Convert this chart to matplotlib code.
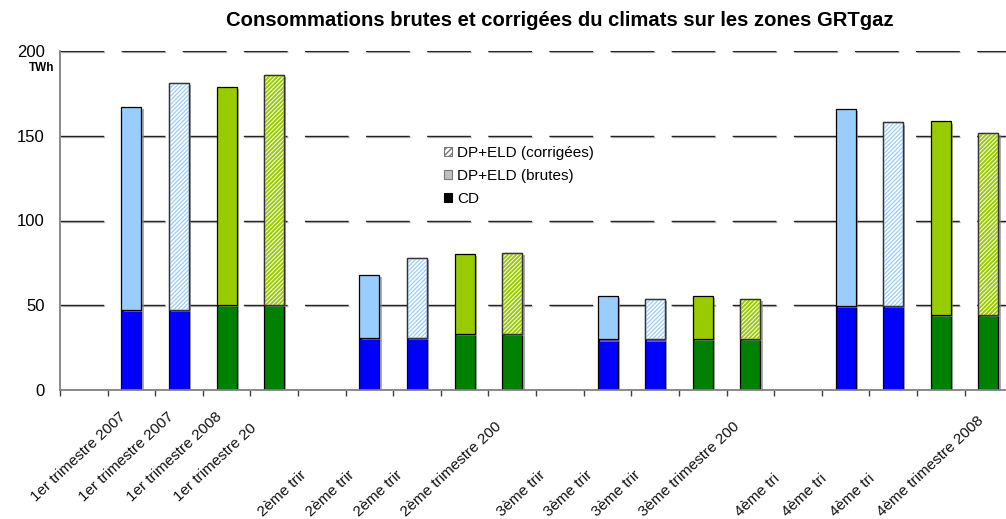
import matplotlib
matplotlib.use("Agg")
import matplotlib.pyplot as plt
import matplotlib.patheffects as pe
import matplotlib.transforms as mtransforms
from matplotlib.patches import Patch

plt.rcParams['font.family'] = ['Liberation Sans', 'DejaVu Sans']
plt.rcParams['hatch.linewidth'] = 1.0

# ---- data ----
slot_labels = ['', '1er trimestre 2007', '1er trimestre 2007', '1er trimestre 2008', '1er trimestre 20',
               '', '2ème trir', '2ème trir', '2ème trir', '2ème trimestre 200',
               '', '3ème trir', '3ème trir', '3ème trir', '3ème trimestre 200',
               '', '4ème tri', '4ème tri', '4ème tri', '4ème trimestre 2008']
long_label_slots = [1, 2, 3, 4]

cd_2007 = [47.3, 30.8, 29.8, 49.6]
cd_2008 = [50.4, 33.0, 30.2, 44.5]
dp_2007_brutes = [119.6, 36.9, 25.9, 116.2]
dp_2007_corr = [133.7, 47.3, 24.1, 108.3]
dp_2008_brutes = [128.3, 47.5, 25.5, 114.0]
dp_2008_corr = [135.4, 48.1, 23.7, 107.2]

legend_labels = ['DP+ELD (corrigées)', 'DP+ELD (brutes)', 'CD']
title = 'Consommations brutes et corrigées du climats sur les zones GRTgaz'
yticks = [0, 50, 100, 150, 200]

# ---- figure ----
W, H = 1006, 519
fig = plt.figure(figsize=(W / 100, H / 100), dpi=100)
ax_left = 60 / W
ax_bottom = (H - 390) / H
ax_height = 339 / H
ax = fig.add_axes([ax_left, ax_bottom, 1 - ax_left, ax_height])
ax.set_xlim(0, 19.87)
ax.set_ylim(0, 200)

# gridlines
for v in yticks[1:]:
    ax.axhline(v, color='#222222', lw=1.0, dashes=(31.5, 12.5), zorder=1,
               path_effects=[pe.SimpleLineShadow(offset=(0.8, -0.8), shadow_color='#999999', alpha=0.6),
                             pe.Normal()])

light_blue = '#99CCFF'
blue = '#0000FF'
green = '#008000'
yel_green = '#99CC00'
width = 0.42
shadow = [pe.SimplePatchShadow(offset=(1.6, -1.6), shadow_rgbFace='#8a8a8a', alpha=0.7), pe.Normal()]


def draw_bar(xs, bottom_vals, top_vals, base_color, top_color, hatched, hatch, hlw):
    ax.bar(xs, bottom_vals, width=width, color=base_color, edgecolor='black', lw=0.9,
           zorder=3, path_effects=shadow)
    if hatched:
        ax.bar(xs, top_vals, bottom=bottom_vals, width=width, color='white', edgecolor='black',
               lw=0.9, zorder=3, path_effects=shadow)
        with plt.rc_context({'hatch.linewidth': hlw}):
            ax.bar(xs, top_vals, bottom=bottom_vals, width=width, color='none', edgecolor=top_color,
                   hatch=hatch, lw=0, zorder=4)
        ax.bar(xs, top_vals, bottom=bottom_vals, width=width, color='none', edgecolor='#333333',
               lw=0.9, zorder=5)
    else:
        ax.bar(xs, top_vals, bottom=bottom_vals, width=width, color=top_color, edgecolor='black',
               lw=0.9, zorder=3, path_effects=shadow)


n_groups = len(cd_2007)
for k, (cd, dp, base, topc, hatched, hatch, hlw) in enumerate([
        (cd_2007, dp_2007_brutes, blue, light_blue, False, None, 1.0),
        (cd_2007, dp_2007_corr, blue, light_blue, True, '////////', 0.9),
        (cd_2008, dp_2008_brutes, green, yel_green, False, None, 1.0),
        (cd_2008, dp_2008_corr, green, yel_green, True, '////////', 1.4)]):
    xs = [5 * g + 1 + k + 0.5 for g in range(n_groups)]
    draw_bar(xs, cd, dp, base, topc, hatched, hatch, hlw)

# axes styling
for s in ['top', 'right']:
    ax.spines[s].set_visible(False)
ax.spines['left'].set_color('#808080')
ax.spines['left'].set_linewidth(1.3)
ax.spines['bottom'].set_color('#808080')
ax.spines['bottom'].set_linewidth(1.3)
ax.spines['bottom'].set_zorder(6)
ax.set_yticks(yticks)
ax.tick_params(axis='y', length=0, pad=11, labelsize=12)
ax.set_xticks(range(0, 20))
ax.set_xticklabels([])
ax.tick_params(axis='x', length=4, width=1, color='#404040', direction='out')

# category labels (rotated)
trans_base = ax.get_xaxis_transform()
for i, lab in enumerate(slot_labels):
    if not lab:
        continue
    if i in long_label_slots:
        dx, dy = -95, -112
    else:
        dx, dy = -106, -127
    off = mtransforms.ScaledTranslation(dx / 100, dy / 100, fig.dpi_scale_trans)
    ax.text(i + 0.5, 0, lab, transform=trans_base + off, rotation=43,
            rotation_mode='anchor', ha='left', va='baseline', fontsize=11, color='#111111')

# legend
handles = [Patch(facecolor='white', edgecolor='#777777', hatch='//////', lw=0.8),
           Patch(facecolor='#C0C0C0', edgecolor='#777777', lw=0.8),
           Patch(facecolor='black', edgecolor='black', lw=0.8)]
fig.legend(handles, legend_labels, loc='upper left', bbox_to_anchor=(444 / W, 1 - 146 / H),
           frameon=False, fontsize=11, handlelength=0.5, handleheight=0.5,
           handletextpad=0.35, labelspacing=0.58, borderpad=0, borderaxespad=0)

fig.text(560 / W, 1 - 21 / H, title, ha='center', va='center', fontsize=14.6, fontweight='bold')
fig.text(42 / W, 1 - 68 / H, 'TWh', ha='center', va='center', fontsize=8.5, fontweight='bold')

fig.savefig('out.png', dpi=100)
